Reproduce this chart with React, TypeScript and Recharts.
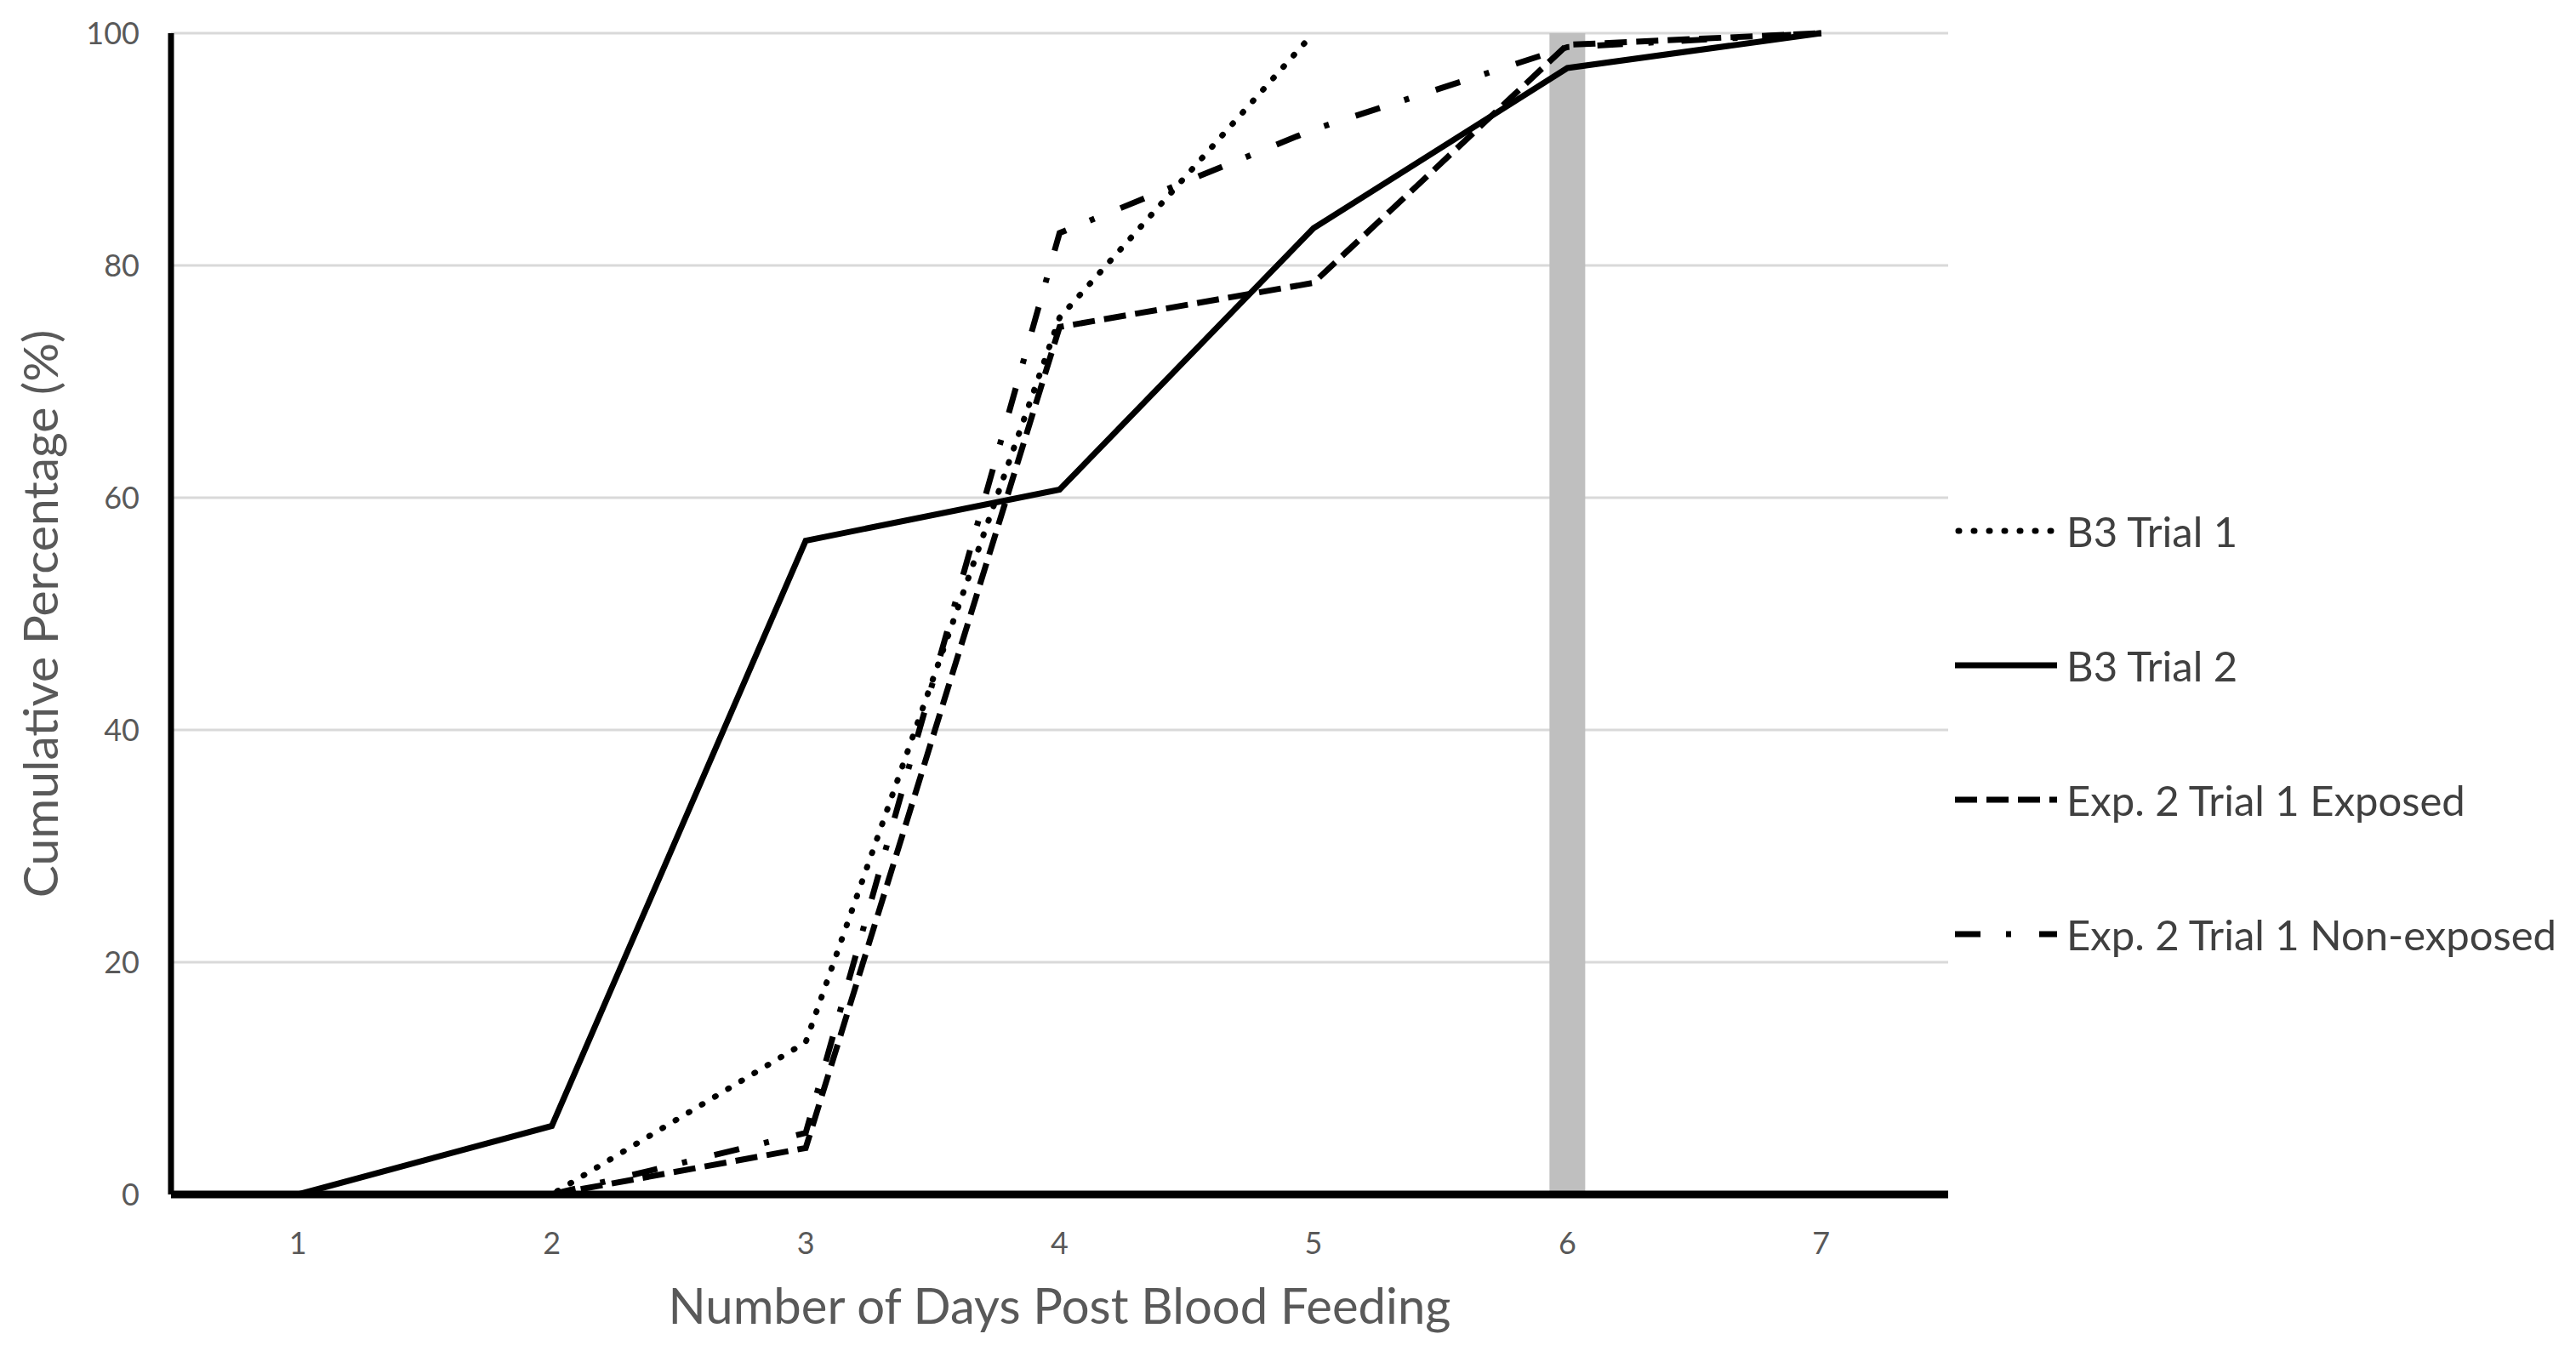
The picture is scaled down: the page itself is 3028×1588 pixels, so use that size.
import React from 'react';
import { LineChart, Line, XAxis, YAxis, CartesianGrid, ReferenceLine, Legend } from 'recharts';

const days = [1, 2, 3, 4, 5, 6, 7];
const b3Trial1 = [0, 0, 13.1, 75.5, 100, null, null];
const b3Trial2 = [0, 5.9, 56.3, 60.7, 83.2, 97.0, 100];
const exp2Exposed = [0, 0, 4.0, 74.7, 78.5, 99.0, 100];
const exp2NonExposed = [0, 0, 5.3, 82.8, 91.7, 98.8, 100];

const yTicks = [0, 20, 40, 60, 80, 100];

const SERIES = [
  { key: 'b3t1', name: 'B3 Trial 1', dash: '1 17', cap: 'round' as const },
  { key: 'b3t2', name: 'B3 Trial 2', dash: undefined, cap: 'butt' as const },
  { key: 'exp', name: 'Exp. 2 Trial 1 Exposed', dash: '26 11', cap: 'butt' as const },
  { key: 'nonexp', name: 'Exp. 2 Trial 1 Non-exposed', dash: '30 30 6 33', cap: 'butt' as const },
];

const data = days.map((day, i) => ({
  day,
  b3t1: b3Trial1[i],
  b3t2: b3Trial2[i],
  exp: exp2Exposed[i],
  nonexp: exp2NonExposed[i],
}));

const FONT = 'Lato, "Open Sans", sans-serif';
const TEXT = '#595959';

const renderLegend = () => (
  <div style={{ display: 'flex', flexDirection: 'column', fontFamily: FONT }}>
    {SERIES.map((s) => (
      <div key={s.key} style={{ height: 158, display: 'flex', alignItems: 'center' }}>
        <svg width={120} height={14} style={{ display: 'block' }}>
          <line
            x1={s.cap === 'round' ? 4 : 0}
            y1={7}
            x2={120}
            y2={7}
            stroke="#000"
            strokeWidth={7}
            strokeDasharray={s.dash}
            strokeLinecap={s.cap}
          />
        </svg>
        <span style={{ marginLeft: 11, fontSize: 49, color: '#404040', whiteSpace: 'nowrap' }}>{s.name}</span>
      </div>
    ))}
  </div>
);

export default function App() {
  return (
    <LineChart
      width={3012}
      height={1572}
      data={data}
      margin={{ top: 31, right: 730, left: 0, bottom: 0 }}
      style={{ fontFamily: FONT }}
    >
      <CartesianGrid vertical={false} stroke="#d9d9d9" strokeWidth={3} />
      <ReferenceLine x={6} stroke="#bfbfbf" strokeWidth={42} />
      <XAxis
        type="number"
        dataKey="day"
        domain={[0.5, 7.5]}
        ticks={days}
        height={176}
        axisLine={{ stroke: '#000', strokeWidth: 9 }}
        tickLine={false}
        tickMargin={38}
        tick={{ fontSize: 36, fill: TEXT, fontFamily: FONT }}
        label={{
          value: 'Number of Days Post Blood Feeding',
          position: 'insideBottom',
          offset: 24,
          style: { fontSize: 58, fill: TEXT, fontFamily: FONT },
        }}
      />
      <YAxis
        type="number"
        domain={[0, 100]}
        ticks={yTicks}
        width={193}
        axisLine={{ stroke: '#000', strokeWidth: 7 }}
        tickLine={false}
        tickMargin={31}
        tick={{ fontSize: 36, fill: TEXT, fontFamily: FONT }}
        label={{
          value: 'Cumulative Percentage (%)',
          angle: -90,
          position: 'insideLeft',
          offset: 40,
          style: { fontSize: 57, fill: TEXT, fontFamily: FONT, textAnchor: 'middle' },
        }}
      />
      {SERIES.map((s) => (
        <Line
          key={s.key}
          type="linear"
          dataKey={s.key}
          name={s.name}
          stroke="#000"
          strokeWidth={7}
          strokeDasharray={s.dash}
          strokeLinecap={s.cap}
          dot={false}
          activeDot={false}
          isAnimationActive={false}
        />
      ))}
      <Legend
        layout="horizontal"
        verticalAlign="middle"
        content={renderLegend}
        wrapperStyle={{ left: 2290, top: 537, width: 720 }}
      />
    </LineChart>
  );
}
